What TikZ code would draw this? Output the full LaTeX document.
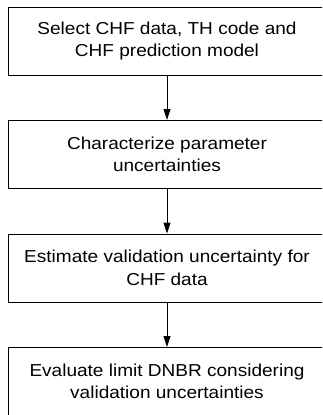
\documentclass[tikz,border=0pt]{standalone}
\usepackage{fontspec}
\setmainfont{Liberation Sans}[FakeStretch=1.1]
\usetikzlibrary{arrows.meta}
\tikzset{
  stepbox/.style={draw=black, line width=0.9pt, minimum width=318pt, minimum height=68pt,
    inner sep=0pt, align=center, font=\fontsize{17.3pt}{22.6pt}\selectfont},
  flow/.style={line width=0.9pt, -{Triangle[length=11pt,width=7pt]}}
}
\begin{document}
\begin{tikzpicture}[x=1pt,y=-1pt]
  \path[use as bounding box, clip] (0,0) rectangle (322,415);
  \node[stepbox] (s1) at (167,41)    {Select CHF data, TH code and\\CHF prediction model};
  \node[stepbox] (s2) at (167,154.5) {Characterize parameter\\uncertainties};
  \node[stepbox] (s3) at (167,268)   {Estimate validation uncertainty for\\CHF data};
  \node[stepbox] (s4) at (167,381.5) {Evaluate limit DNBR considering\\validation uncertainties};
  \draw[flow] (s1) -- (s2);
  \draw[flow] (s2) -- (s3);
  \draw[flow] (s3) -- (s4);
\end{tikzpicture}
\end{document}
